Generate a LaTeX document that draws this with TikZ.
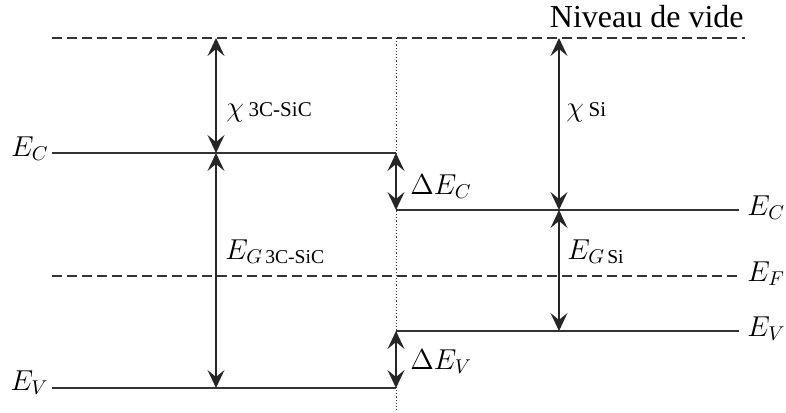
\documentclass[tikz,border=0pt]{standalone}
\usepackage{amsmath}
\usepackage{fontspec}
\setmainfont{Liberation Serif}
\usepackage{tikz}
\usetikzlibrary{arrows.meta}

\begin{document}
\begin{tikzpicture}[
  x=0.5pt, y=-0.5pt,
  niveau/.style={draw=black!80, line width=0.7pt},
  tirets/.style={niveau, dash pattern=on 5pt off 2.5pt},
  pointil/.style={draw=black!75, line width=0.5pt, dash pattern=on 0.6pt off 1pt},
  fleche/.style={{Stealth[length=9pt, width=8.5pt, inset=3.5pt]}-{Stealth[length=9pt, width=8.5pt, inset=3.5pt]}, draw=black!85, line width=0.7pt},
  etiq/.style={font=\fontsize{14}{16}\selectfont, inner sep=0pt}
]
\useasboundingbox (0,0) rectangle (786,412);

% niveaux
\coordinate (vac0) at (52,38);
\coordinate (vac1) at (745,38);
\coordinate (ecg0) at (52,153);
\coordinate (ecg1) at (396,153);
\coordinate (evg0) at (52,388);
\coordinate (evg1) at (396,388);
\coordinate (ecd0) at (396,210);
\coordinate (ecd1) at (739,210);
\coordinate (evd0) at (396,331);
\coordinate (evd1) at (739,331);
\coordinate (ef0) at (52,276);
\coordinate (ef1) at (739,276);
\coordinate (int0) at (396,38);
\coordinate (int1) at (396,412);

\draw[tirets] (vac0) -- (vac1);
\draw[tirets] (ef0) -- (ef1);
\draw[pointil] (int0) -- (int1);
\draw[niveau] (ecg0) -- (ecg1);
\draw[niveau] (evg0) -- (evg1);
\draw[niveau] (ecd0) -- (ecd1);
\draw[niveau] (evd0) -- (evd1);

% fleches
\coordinate (chig0) at (216,38);
\coordinate (chig1) at (216,153);
\coordinate (egg1) at (216,388);
\coordinate (chid0) at (559,38);
\coordinate (chid1) at (559,210);
\coordinate (egd1) at (559,331);
\draw[fleche] (chig0) -- (chig1);
\draw[fleche] (chig1) -- (egg1);
\draw[fleche] (chid0) -- (chid1);
\draw[fleche] (chid1) -- (egd1);
\draw[fleche] (ecg1) -- (ecd0);
\draw[fleche] (evd0) -- (evg1);

% etiquettes
\node[anchor=base east, font=\fontsize{16}{18}\selectfont, inner sep=0pt] (vide) at (744,27) {Niveau de vide};
\node[etiq, anchor=base east] (ecgl) at (49,156) {$E_C$};
\node[etiq, anchor=base east] (evgl) at (49,390) {$E_V$};
\node[etiq, anchor=base west] (ecdl) at (747,215) {$E_C$};
\node[etiq, anchor=base west] (efl) at (747,281) {$E_F$};
\node[etiq, anchor=base west] (evdl) at (747,336) {$E_V$};
\node[etiq, anchor=base west] (chigl) at (226,116) {$\chi$\,{\fontsize{10.5}{12}\selectfont 3C-SiC}};
\node[etiq, anchor=base west] (chidl) at (566,116) {$\chi$\,{\fontsize{10.5}{12}\selectfont Si}};
\node[etiq, anchor=base west] (eggl) at (225,259) {$E_{G\,\text{3C-SiC}}$};
\node[etiq, anchor=base west] (egdl) at (567,259) {$E_{G\,\text{Si}}$};
\node[etiq, anchor=base west] (dec) at (410,194) {$\Delta E_C$};
\node[etiq, anchor=base west] (dev) at (410,369) {$\Delta E_V$};
\end{tikzpicture}
\end{document}
